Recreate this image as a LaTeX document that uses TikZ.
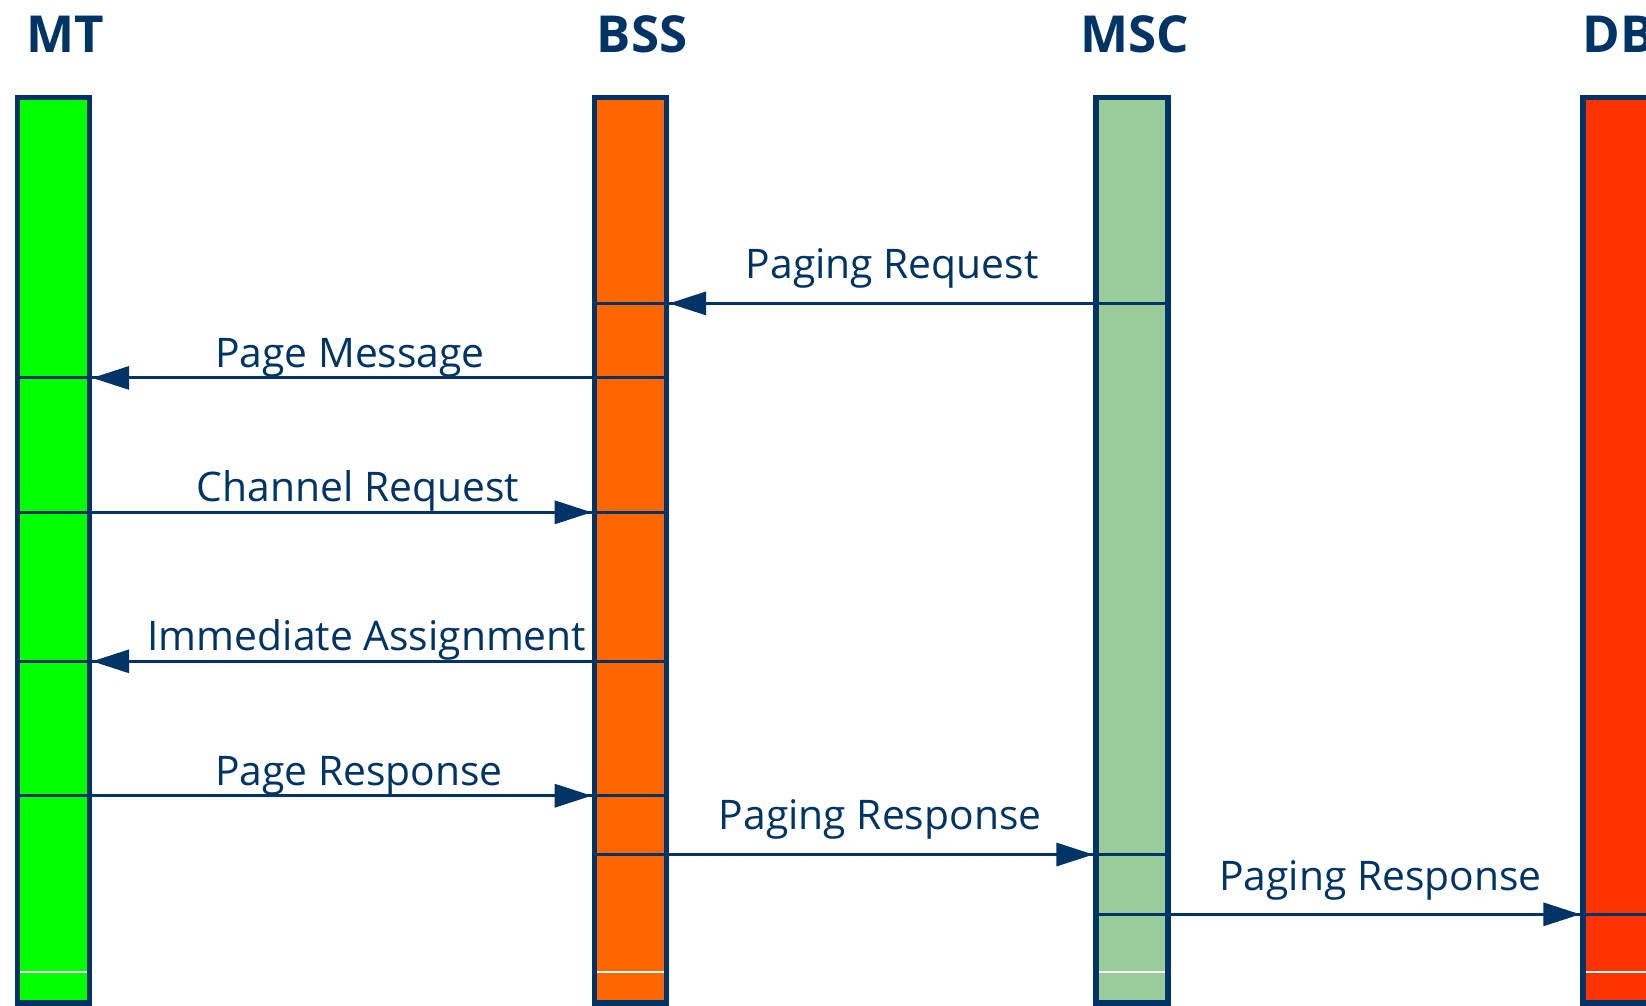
\documentclass[tikz,border=0pt]{standalone}
\usepackage{fontspec}
\setmainfont{Open Sans}
\usetikzlibrary{arrows.meta}
\definecolor{navy}{RGB}{0,51,102}
\definecolor{mtgreen}{RGB}{0,255,0}
\definecolor{bssorange}{RGB}{255,102,0}
\definecolor{mscgreen}{RGB}{153,204,153}
\definecolor{dbred}{RGB}{255,51,0}

\begin{document}
\begin{tikzpicture}[x=0.01cm, y=-0.01cm,
  bar/.style={draw=navy, line width=1.5pt, minimum height=9.05cm, minimum width=0.72cm, inner sep=0},
  head/.style={anchor=base, inner sep=0, text=navy, font=\fontsize{14.5}{17}\selectfont\bfseries},
  msgline/.style={draw=navy, line width=0.9pt},
  msg/.style={msgline, -{Triangle[length=0.37cm, width=0.23cm]}},
  lbl/.style={midway, anchor=base, inner sep=0, text=navy, font=\fontsize{11.6}{14}\selectfont},
  endline/.style={draw=white, line width=0.4pt, shorten <=1.5pt, shorten >=1.5pt}]
\useasboundingbox (0,0) rectangle (1646,1005);
\clip (0,0) rectangle (1646,1005);

% Headers
\node[head] (mthead) at (65.6,52.5) {MT};
\node[head] (bsshead) at (642,52.5) {BSS};
\node[head] (mschead) at (1135,52.5) {MSC};
\node[head, anchor=base west] (dbhead) at (1582,52.5) {DB};

% Bars
\node[bar, fill=mtgreen] (mt) at (53.5,550.3) {};
\node[bar, fill=bssorange] (bss) at (630.4,550.3) {};
\node[bar, fill=mscgreen] (msc) at (1132,550.3) {};
\node[bar, fill=dbred] (db) at (1619,550.3) {};

% Message heights
\coordinate (m1) at (0,303.4);
\coordinate (m2) at (0,377.9);
\coordinate (m3) at (0,512.3);
\coordinate (m4) at (0,661.3);
\coordinate (m5) at (0,795.7);
\coordinate (m6) at (0,854.5);
\coordinate (m7) at (0,914.3);
\coordinate (wl) at (0,972);

% Paging Request
\draw[msgline] (bss.west |- m1) -- (msc.east |- m1);
\draw[msg] (msc.west |- m1) -- node[lbl, xshift=0.11cm, yshift=0.25cm] {Paging Request} (bss.east |- m1);

% Page Message
\draw[msgline] (mt.west |- m2) -- (bss.east |- m2);
\draw[msg] (bss.west |- m2) -- node[lbl, xshift=0.08cm, yshift=0.105cm] {Page Message} (mt.east |- m2);

% Channel Request
\draw[msgline] (mt.west |- m3) -- (bss.east |- m3);
\draw[msg] (mt.east |- m3) -- node[lbl, xshift=0.16cm, yshift=0.105cm] {Channel Request} (bss.west |- m3);

% Immediate Assignment
\draw[msgline] (mt.west |- m4) -- (bss.east |- m4);
\draw[msg] (bss.west |- m4) -- node[lbl, xshift=0.25cm, yshift=0.105cm] {Immediate Assignment} (mt.east |- m4);

% Page Response
\draw[msgline] (mt.west |- m5) -- (bss.east |- m5);
\draw[msg] (mt.east |- m5) -- node[lbl, xshift=0.17cm, yshift=0.105cm] {Page Response} (bss.west |- m5);

% Paging Response to MSC
\draw[msgline] (bss.west |- m6) -- (msc.east |- m6);
\draw[msg] (bss.east |- m6) -- node[lbl, xshift=-0.01cm, yshift=0.25cm] {Paging Response} (msc.west |- m6);

% Paging Response to DB
\draw[msgline] (msc.west |- m7) -- (db.east |- m7);
\draw[msg] (msc.east |- m7) -- node[lbl, xshift=0.05cm, yshift=0.24cm] {Paging Response} (db.west |- m7);

% White marks near the bottom
\foreach \b in {mt,bss,msc,db}
  \draw[endline] (\b.west |- wl) -- (\b.east |- wl);
\end{tikzpicture}
\end{document}
